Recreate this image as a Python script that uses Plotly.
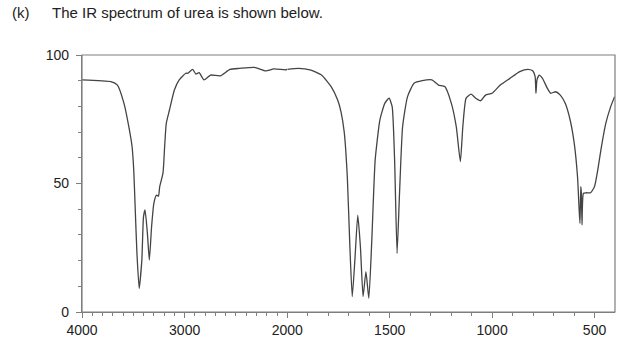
import numpy as np
import plotly.graph_objects as go

# wavenumber (cm-1) and % transmittance
wavenumber = [4000, 3719, 3655, 3591, 3544, 3512, 3496, 3481, 3465, 3443, 3417, 3401, 3386,
              3363, 3344, 3322, 3300, 3274, 3255, 3243, 3211, 3195, 3179, 3148, 3100, 3053,
              2989, 2970, 2922, 2891, 2859, 2811, 2748, 2653, 2558, 2464, 2320, 2210, 2130,
              2019, 2000,
              1945, 1889, 1833, 1786, 1754, 1738, 1722, 1707, 1695, 1683, 1670, 1656, 1643,
              1630, 1616, 1602, 1588, 1571, 1548, 1524, 1503, 1488, 1476, 1464, 1452, 1437,
              1413, 1381, 1341, 1294, 1262, 1231, 1199, 1175, 1155, 1143, 1127, 1103, 1080,
              1056, 1032, 1000, 960, 913, 865, 826, 802, 790, 786, 781, 770, 754, 730, 714,
              690, 667, 643, 619, 599, 583, 575, 571, 567, 564, 561, 554, 540, 519, 500, 484,
              469, 445, 421, 402]
transmittance = [90.3, 89.6, 88.3, 81.2, 72.1, 64.3, 55.3, 39.7, 23.0, 9.2, 20.2, 37.0, 39.7,
                 30.6, 20.2, 33.2, 42.3, 45.5, 45.1, 48.8, 54.0, 64.3, 73.4, 78.6, 86.4, 90.3,
                 92.9, 92.9, 94.4, 92.6, 93.1, 90.3, 92.2, 91.9, 94.4, 94.8, 95.2, 93.8, 94.6,
                 94.2, 94.4,
                 94.8, 94.2, 92.2, 87.7, 82.5, 78.0, 70.0, 52.6, 26.7, 6.0, 20.2, 37.7, 25.4,
                 6.0, 15.7, 5.3, 26.7, 59.1, 74.7, 81.2, 83.2, 79.9, 59.1, 22.8, 46.2, 72.1,
                 83.8, 89.0, 90.0, 90.3, 88.3, 87.7, 81.2, 72.1, 58.5, 72.1, 83.2, 84.8, 83.2,
                 82.2, 84.4, 85.1, 88.3, 90.9, 93.5, 94.4, 93.9, 91.6, 85.1, 90.3, 92.2, 90.9,
                 87.0, 85.1, 85.7, 84.4, 81.2, 74.7, 65.6, 52.6, 39.7, 34.5, 48.8, 46.2, 33.9,
                 46.2, 46.4, 46.4, 48.8, 55.3, 63.0, 73.4, 79.9, 83.8]

x_major_hi = [4000, 3500, 3000, 2500, 2000]
x_labels_hi = ["4000", "", "3000", "", "2000"]
x_major_lo = [2000, 1500, 1000, 500]
x_labels_lo = ["", "1500", "1000", "500"]
y_major = [0, 50, 100]
title_prefix = "(k)"
title_text = "The IR spectrum of urea is shown below."

w = np.array(wavenumber, dtype=float)
t = np.array(transmittance, dtype=float)
hi = w >= 2000
lo = w <= 2000

AX = "#7f7f7f"
LINE = "#444444"
FONT = dict(family="Liberation Sans, Arial, sans-serif", size=14, color="#222222")
TFONT = dict(family="Liberation Sans, Arial, sans-serif", size=15, color="#222222")
split = 210.3 / 546.0

fig = go.Figure()
fig.add_trace(go.Scatter(x=w[hi], y=t[hi], mode="lines", xaxis="x", yaxis="y",
                         line=dict(color=LINE, width=1.3, shape="spline", smoothing=0.5),
                         showlegend=False, hoverinfo="skip"))
fig.add_trace(go.Scatter(x=w[lo], y=t[lo], mode="lines", xaxis="x2", yaxis="y",
                         line=dict(color=LINE, width=1.3, shape="spline", smoothing=0.5),
                         showlegend=False, hoverinfo="skip"))

common_x = dict(showgrid=False, zeroline=False, showline=True, linecolor=AX, linewidth=1.2,
                ticks="outside", ticklen=5, tickcolor=AX, tickwidth=1.2, tickfont=FONT,
                anchor="y", tickmode="array")

fig.update_layout(
    width=643, height=354,
    margin=dict(l=82, r=15, t=55, b=42),
    paper_bgcolor="white", plot_bgcolor="white",
    xaxis=dict(domain=[0, split], range=[4000, 2000], tickvals=x_major_hi, ticktext=x_labels_hi,
               minor=dict(tickmode="array", tickvals=list(range(3900, 2000, -100)),
                          ticks="outside", ticklen=3, tickcolor=AX, tickwidth=1.2),
               **common_x),
    xaxis2=dict(domain=[split, 1], range=[2000, 400], tickvals=x_major_lo, ticktext=x_labels_lo,
                minor=dict(tickmode="array", tickvals=list(range(1900, 400, -100)),
                           ticks="outside", ticklen=3, tickcolor=AX, tickwidth=1.2),
                **common_x),
    yaxis=dict(range=[0, 100], tickmode="array", tickvals=y_major, showgrid=False, zeroline=False,
               showline=True, linecolor=AX, linewidth=1.2, ticks="outside", ticklen=5,
               tickcolor=AX, tickwidth=1.2, tickfont=FONT, ticklabelstandoff=4,
               minor=dict(tickmode="array", tickvals=list(range(10, 100, 10)),
                          ticks="outside", ticklen=3, tickcolor=AX, tickwidth=1.2)),
    shapes=[dict(type="rect", xref="paper", yref="paper", x0=0, x1=1, y0=0, y1=1,
                 line=dict(color=AX, width=1.2), layer="above")],
    annotations=[
        dict(text=title_prefix, xref="paper", yref="paper", x=(8 - 82) / 546,
             y=(312 - 13) / 257, xanchor="left", yanchor="middle", showarrow=False, font=TFONT),
        dict(text=title_text, xref="paper", yref="paper", x=(49 - 82) / 546,
             y=(312 - 13) / 257, xanchor="left", yanchor="middle", showarrow=False, font=TFONT),
    ],
)

fig.write_html("out.html")
